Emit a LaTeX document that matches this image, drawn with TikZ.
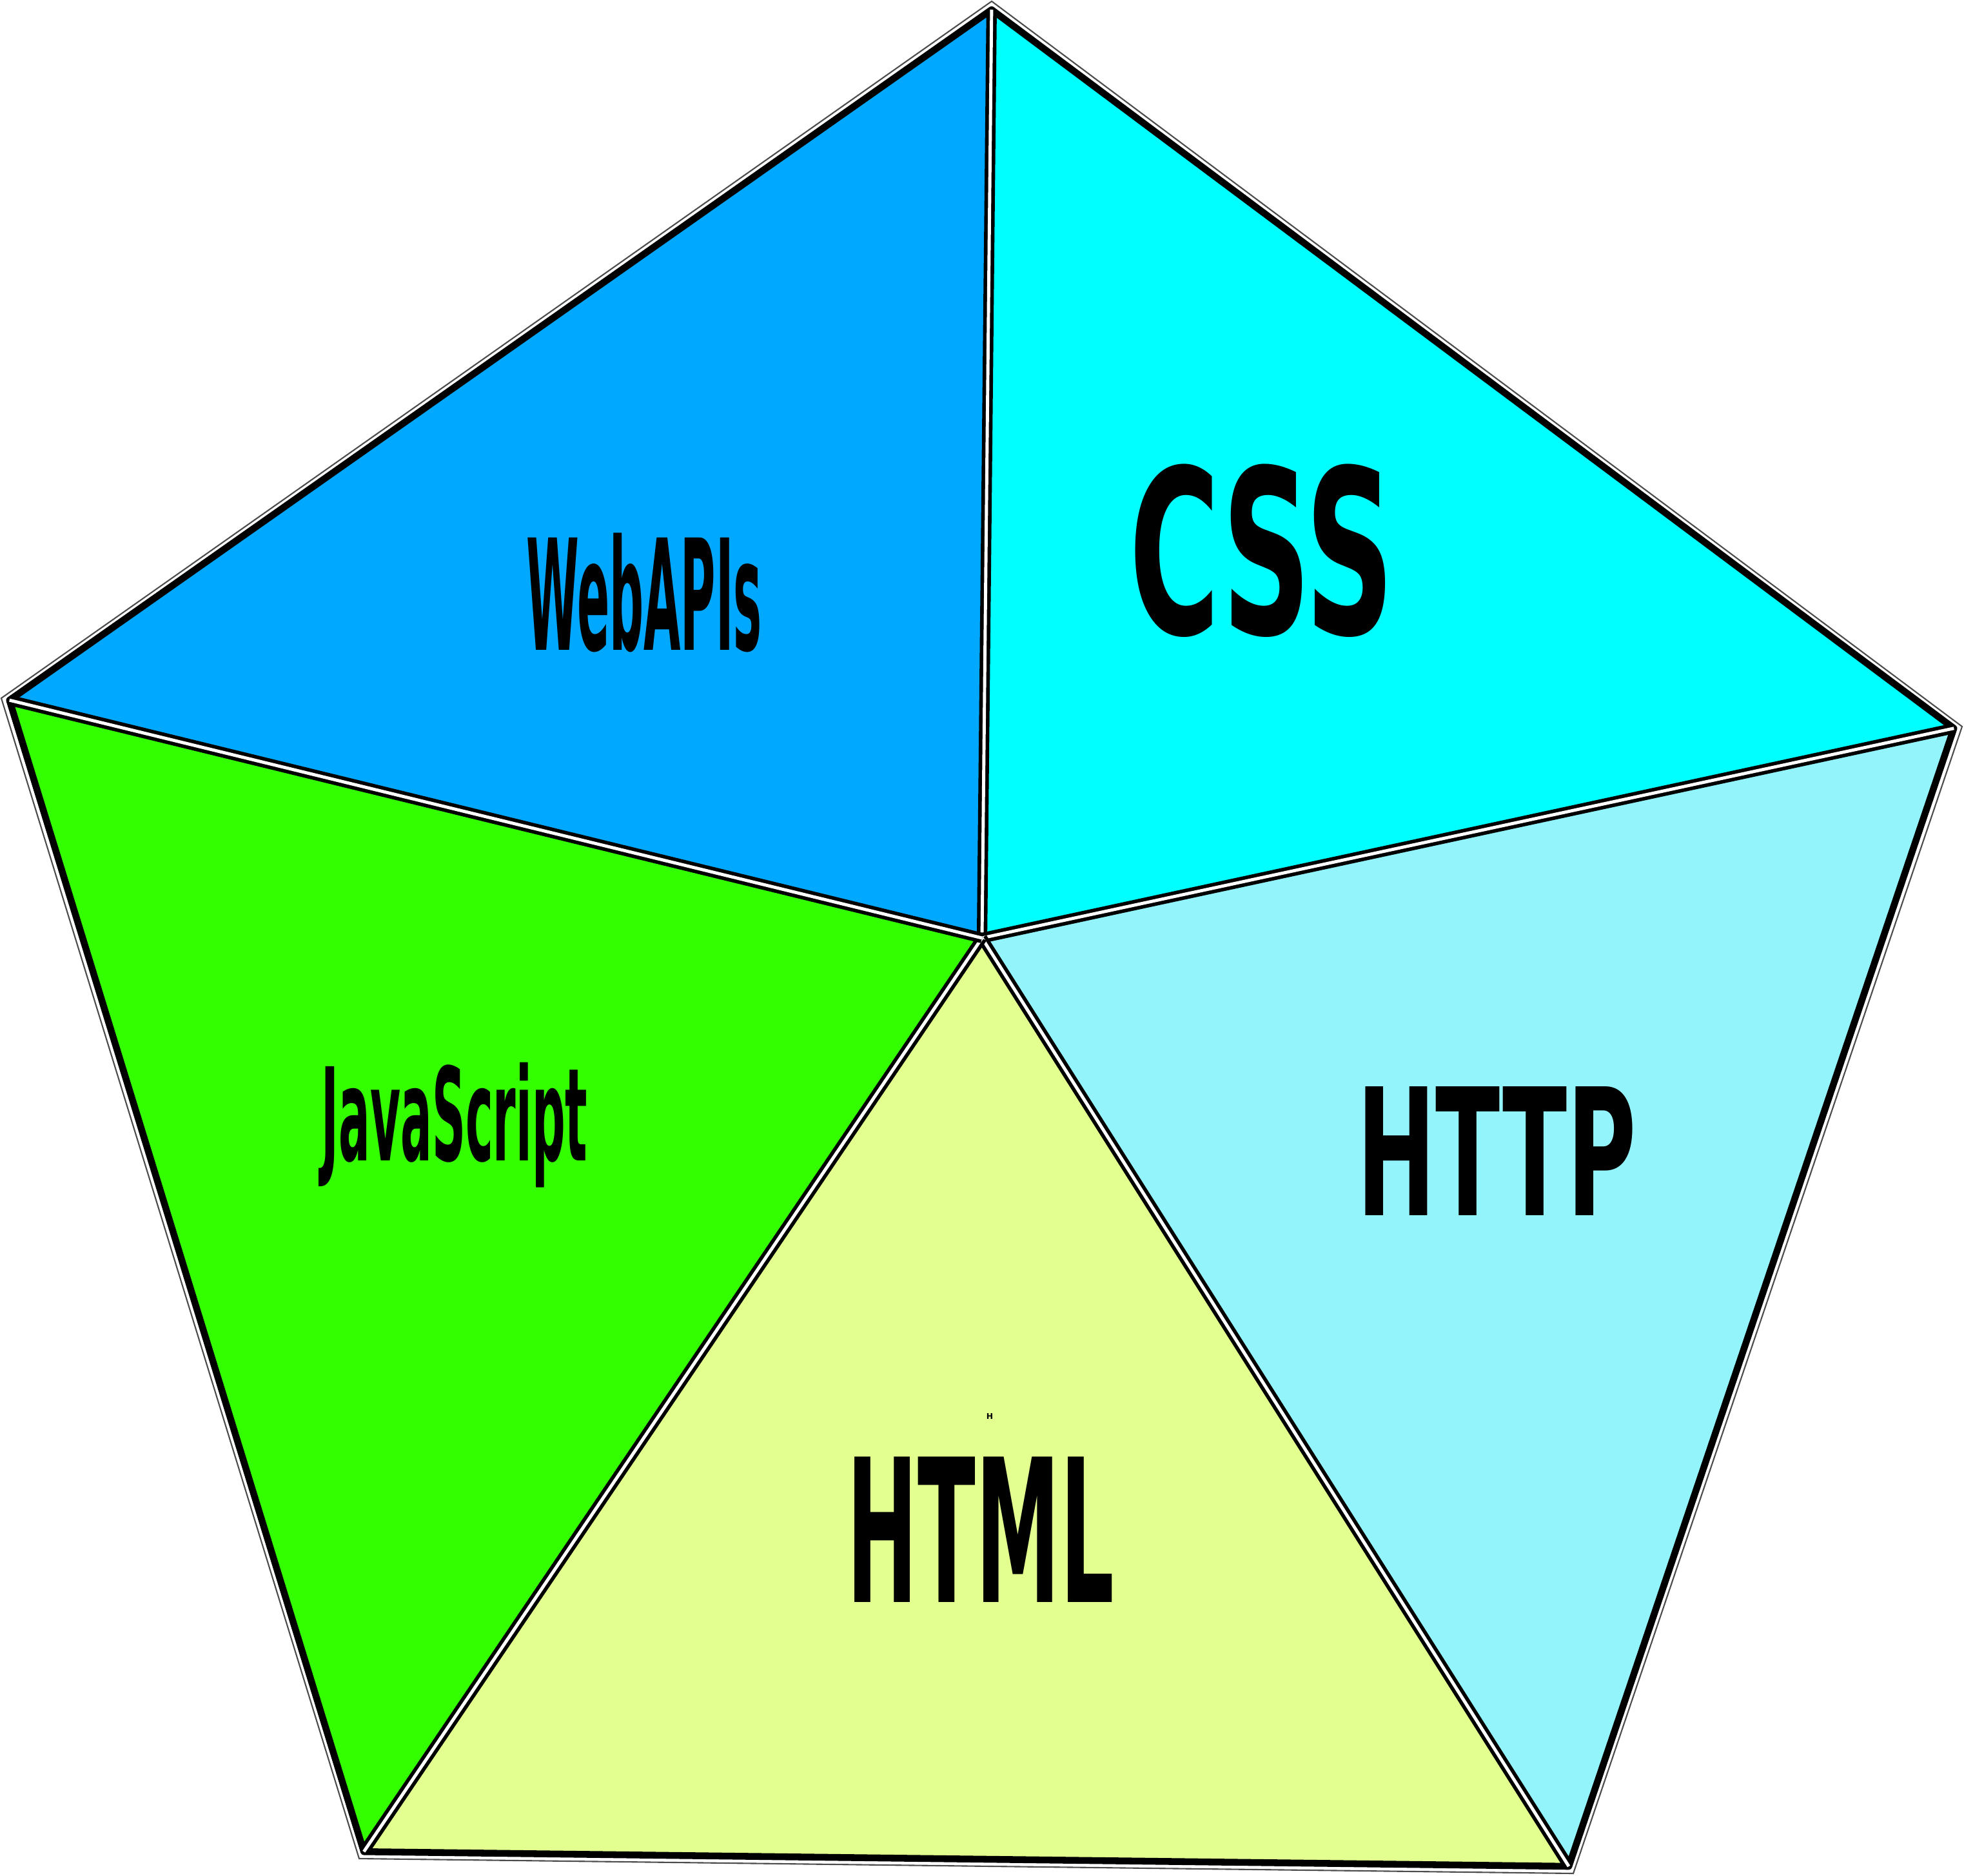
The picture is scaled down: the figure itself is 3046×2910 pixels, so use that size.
\documentclass[tikz,border=0pt]{standalone}
\usepackage{fontspec}
\setmainfont{DejaVu Sans}
\usetikzlibrary{calc}
\definecolor{apiblue}{RGB}{0,168,255}
\definecolor{cssaqua}{RGB}{0,255,255}
\definecolor{jsgreen}{RGB}{51,255,0}
\definecolor{httpsky}{RGB}{148,244,252}
\definecolor{htmllime}{RGB}{227,255,144}
\tikzset{edge/.style={draw=black,line width=3pt,line join=round},
  spoke/.style={black,line width=4.6pt,postaction={draw=white,line width=1.4pt}},
  lbl/.style={anchor=base,inner sep=0pt}}

\begin{document}
\begin{tikzpicture}[x=0.01cm,y=-0.01cm]
\useasboundingbox (0,0) rectangle (3046,2910);
\coordinate (T) at (1538,2); \coordinate (R) at (3043,1127); \coordinate (BR) at (2440,2906); \coordinate (BL) at (557,2883); \coordinate (L) at (2,1083); \coordinate (C) at (1523,1455);
\foreach \p in {T,R,BR,BL,L} \coordinate (i\p) at ($(\p)!0.13cm!(C)$);
\foreach \a/\b/\col in {T/L/apiblue,T/R/cssaqua,R/BR/httpsky,BR/BL/htmllime,BL/L/jsgreen}
  \fill[\col] (i\a)--(i\b)--(C)--cycle;
\draw[edge] (iT)--(iR)--(iBR)--(iBL)--(iL)--cycle;
\foreach \p in {T,R,BR,BL,L} \draw[spoke] (C)--(i\p);
\draw[black!70,line width=.6pt] (T)--(R)--(BR)--(BL)--(L)--cycle;
\node[lbl] (webapis) at (999,1008) {\bfseries\fontsize{68}{68}\selectfont\scalebox{0.31}[1]{WebAPIs}};
\node[lbl] (css) at (1957,983) {\bfseries\fontsize{101}{101}\selectfont\scalebox{0.54}[1]{CSS}};
\node[lbl] (javascript) at (705,1800) {\bfseries\fontsize{57}{57}\selectfont\scalebox{0.36}[1]{JavaScript}};
\node[lbl] (http) at (2321,1885) {\bfseries\fontsize{78}{78}\selectfont\scalebox{0.535}[1]{HTTP}};
\node[lbl] (html) at (1521,2485) {\bfseries\fontsize{88}{88}\selectfont\scalebox{0.425}[1]{HTML}};
\node[lbl] (tinyh) at (1535,2201) {\bfseries\fontsize{3.5}{3.5}\selectfont H};
\end{tikzpicture}
\end{document}
